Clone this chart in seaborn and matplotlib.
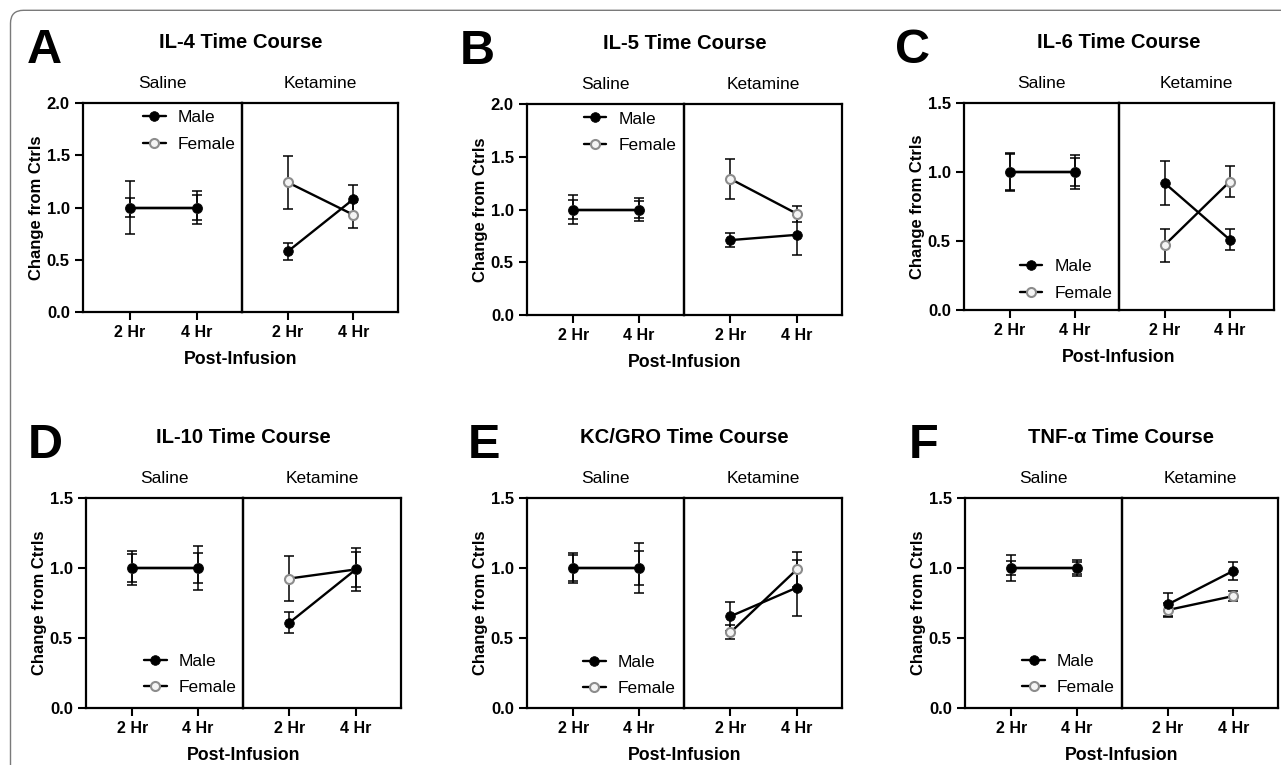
"""
Cytokine time courses (saline vs ketamine, male vs female)
Six panels, each split into a Saline and a Ketamine half.
"""

import numpy as np
import pandas as pd
import matplotlib.pyplot as plt
import seaborn as sns
from matplotlib.lines import Line2D
from matplotlib.patches import FancyBboxPatch

sns.set_style('ticks')
plt.rcParams['font.family'] = ['Liberation Sans', 'DejaVu Sans']
plt.rcParams.update({
    'text.color': 'black',
    'axes.labelcolor': 'black',
    'xtick.color': 'black',
    'ytick.color': 'black',
})

# order of every series: Saline 2 Hr, Saline 4 Hr, Ketamine 2 Hr, Ketamine 4 Hr
treatments = ['Saline', 'Saline', 'Ketamine', 'Ketamine']
times = ['2 Hr', '4 Hr', '2 Hr', '4 Hr']

il4_male = [1.0, 1.0, 0.58, 1.08]
il4_male_sem = [0.09, 0.12, 0.08, 0.14]
il4_female = [1.0, 1.0, 1.24, 0.93]
il4_female_sem = [0.25, 0.155, 0.255, 0.125]

il5_male = [1.0, 1.0, 0.71, 0.76]
il5_male_sem = [0.09, 0.08, 0.067, 0.19]
il5_female = [1.0, 1.0, 1.29, 0.96]
il5_female_sem = [0.14, 0.11, 0.19, 0.075]

il6_male = [1.0, 1.0, 0.92, 0.51]
il6_male_sem = [0.13, 0.10, 0.16, 0.075]
il6_female = [1.0, 1.0, 0.47, 0.93]
il6_female_sem = [0.14, 0.12, 0.12, 0.11]

il10_male = [1.0, 1.0, 0.61, 0.99]
il10_male_sem = [0.10, 0.105, 0.075, 0.125]
il10_female = [1.0, 1.0, 0.925, 0.99]
il10_female_sem = [0.12, 0.16, 0.16, 0.155]

kc_male = [1.0, 1.0, 0.655, 0.86]
kc_male_sem = [0.09, 0.12, 0.105, 0.20]
kc_female = [1.0, 1.0, 0.54, 0.99]
kc_female_sem = [0.11, 0.18, 0.05, 0.125]

tnf_male = [1.0, 1.0, 0.74, 0.98]
tnf_male_sem = [0.05, 0.04, 0.085, 0.065]
tnf_female = [1.0, 1.0, 0.70, 0.80]
tnf_female_sem = [0.095, 0.06, 0.05, 0.033]

W, H = 1281, 765
fig = plt.figure(figsize=(W / 100, H / 100), dpi=100)

FEMALE_EDGE = '#8c8c8c'
STYLES = {
    'Female': dict(marker='o', markersize=6.5, markerfacecolor='#f4f4f4',
                   markeredgecolor=FEMALE_EDGE, markeredgewidth=1.5),
    'Male': dict(marker='o', markersize=7, markerfacecolor='black',
                 markeredgecolor='black', markeredgewidth=0.5),
}


def px(x, y):
    return x / W, 1 - y / H


def make_frame(male, male_sem, female, female_sem):
    rows = []
    for sex, m, e in (('Male', male, male_sem), ('Female', female, female_sem)):
        for tr, tm, v, s in zip(treatments, times, m, e):
            rows.append(dict(treatment=tr, time=tm, sex=sex, mean=v, sem=s))
    df = pd.DataFrame(rows)
    df['x'] = df['time'].map({'2 Hr': 0, '4 Hr': 1})
    return df


def draw_panel(letter, title, df, ymax, box, letter_x, legend_loc, legend_anchor):
    l, d, r, t, b = box
    x0, y0 = px(l, b)
    ax_s = fig.add_axes([x0, y0, (d - l) / W, (b - t) / H])
    ax_k = fig.add_axes([d / W, y0, (r - d) / W, (b - t) / H], sharey=ax_s)

    for ax, treat in ((ax_s, 'Saline'), (ax_k, 'Ketamine')):
        ax.set_facecolor('none')
        sub = df[df['treatment'] == treat]
        for sex in ('Female', 'Male'):
            s = sub[sub['sex'] == sex]
            ax.errorbar(s['x'], s['mean'], yerr=s['sem'], fmt='none',
                        ecolor='black', elinewidth=1.1, capsize=3.8,
                        capthick=1.1, zorder=2)
            sns.lineplot(data=s, x='x', y='mean', ax=ax, color='black',
                         lw=1.7, errorbar=None, legend=False, zorder=3,
                         **STYLES[sex])
        ax.set_xlim(-0.7, 1.68)
        ax.set_ylim(0, ymax)
        ax.set_xticks([0, 1])
        ax.set_xticklabels(['2 Hr', '4 Hr'], fontsize=11.5, fontweight='bold')
        ax.set_xlabel('')
        ax.set_ylabel('')
        for sp in ax.spines.values():
            sp.set_visible(True)
            sp.set_linewidth(1.6)
            sp.set_color('black')
        ax.tick_params(axis='both', direction='out', length=5.5, width=1.5,
                       pad=4, colors='black')
        ax.text(0.5, 1 + 15 / (b - t), treat, transform=ax.transAxes,
                ha='center', va='baseline', fontsize=12.5)

    yt = np.arange(0, ymax + 0.01, 0.5)
    ax_s.set_yticks(yt)
    ax_s.set_yticklabels([f'{v:.1f}' for v in yt], fontsize=12, fontweight='bold')
    ax_s.set_ylabel('Change from Ctrls', fontsize=12, fontweight='bold', labelpad=2)
    ax_k.tick_params(axis='y', left=False, labelleft=False)

    handles = [Line2D([], [], color='black', lw=1.7, **STYLES['Male']),
               Line2D([], [], color='black', lw=1.7, **STYLES['Female'])]
    leg = ax_s.legend(handles, ['Male', 'Female'], loc=legend_loc,
                      bbox_to_anchor=legend_anchor, frameon=False, fontsize=12.5,
                      borderpad=0, handlelength=1.3, handletextpad=0.7,
                      labelspacing=0.65, borderaxespad=0)
    leg.set_zorder(10)

    cx = (l + r) / 2
    fig.text(*px(cx, t - 55), title, ha='center', va='baseline',
             fontsize=14.6, fontweight='bold')
    fig.text(*px(cx, b + 52), 'Post-Infusion', ha='center', va='baseline',
             fontsize=12.8, fontweight='bold')
    fig.text(*px(letter_x, t - 40), letter, ha='left', va='baseline',
             fontsize=35, fontweight='bold')


panels = [
    ('A', 'IL-4 Time Course', make_frame(il4_male, il4_male_sem, il4_female, il4_female_sem),
     2.0, (83, 242, 398, 103, 312), 27, 'upper left', (0.377, 0.965)),
    ('B', 'IL-5 Time Course', make_frame(il5_male, il5_male_sem, il5_female, il5_female_sem),
     2.0, (527, 684, 842, 104, 315), 460, 'upper left', (0.36, 0.965)),
    ('C', 'IL-6 Time Course', make_frame(il6_male, il6_male_sem, il6_female, il6_female_sem),
     1.5, (964, 1119, 1274, 103, 310), 895, 'lower left', (0.36, 0.045)),
    ('D', 'IL-10 Time Course', make_frame(il10_male, il10_male_sem, il10_female, il10_female_sem),
     1.5, (86, 243, 401, 498, 708), 28, 'lower left', (0.37, 0.06)),
    ('E', 'KC/GRO Time Course', make_frame(kc_male, kc_male_sem, kc_female, kc_female_sem),
     1.5, (527, 684, 842, 498, 708), 468, 'lower left', (0.357, 0.055)),
    ('F', 'TNF-α Time Course', make_frame(tnf_male, tnf_male_sem, tnf_female, tnf_female_sem),
     1.5, (965, 1122, 1278, 498, 708), 909, 'lower left', (0.365, 0.06)),
]

for p in panels:
    draw_panel(*p)

# thin rounded frame around the figure (right and bottom run off the page)
frame = FancyBboxPatch((0.105, -0.5), 13.5, 7.65 - 0.103 + 0.5,
                       boxstyle='round,pad=0,rounding_size=0.13',
                       transform=fig.dpi_scale_trans, fill=False,
                       edgecolor='#7a7a7a', lw=1.0)
fig.add_artist(frame)

fig.savefig('out.png', dpi=100)
